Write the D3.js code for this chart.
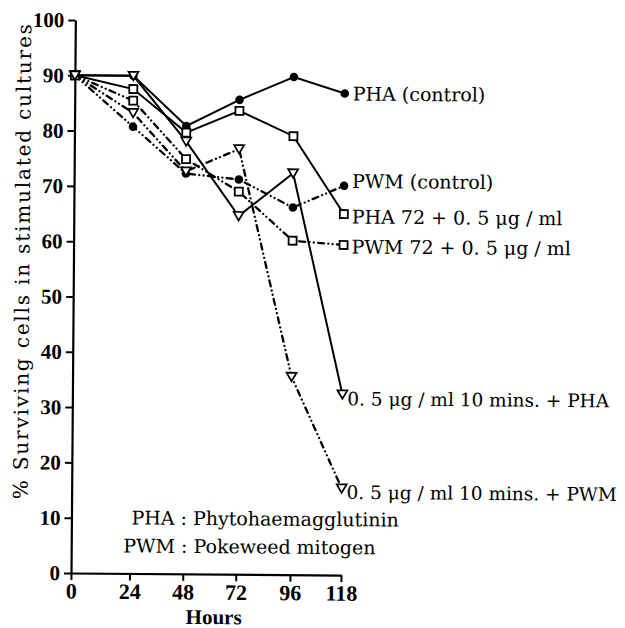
<!DOCTYPE html>
<html>
<head>
<meta charset="utf-8">
<script src="https://cdn.jsdelivr.net/npm/d3@7"></script>
<style>
  body { margin: 0; background: #fff; }
  svg { display: block; }
</style>
</head>
<body>
<svg id="chart" width="625" height="628"></svg>
<script>
// hours after stimulation
const hours = [0, 24, 48, 72, 96, 118];
const yTicks = [0, 10, 20, 30, 40, 50, 60, 70, 80, 90, 100];

// % surviving cells
const phaControl = [90, 90, 81.0, 85.8, 90.0, 87.1];
const pwmControl = [90, 80.8, 72.4, 71.4, 66.4, 70.4];
const pha72 = [90, 87.6, 79.8, 83.8, 79.3, 65.3];
const pwm72 = [90, 85.5, 75.0, 69.2, 60.4, 59.7];
const pha10min = [90, 90, 78.2, 64.8, 72.6, 32.7];
const pwm10min = [90, 83.3, 72.8, 76.9, 35.8, 15.7];

const seriesLabels = [
  "PHA (control)",
  "PWM (control)",
  "PHA 72 + 0. 5 \u03bcg / ml",
  "PWM 72 + 0. 5 \u03bcg / ml",
  "0. 5 \u03bcg / ml 10 mins. + PHA",
  "0. 5 \u03bcg / ml 10 mins. + PWM"
];

const allSeries = [phaControl, pwmControl, pha72, pwm72, pha10min, pwm10min];

// look of each series (same order)
const markers = ["circle", "circle", "square", "square", "triangle", "triangle"];
const dotted = [false, true, false, true, false, true];
const labelNudge = [0, -5, 2.5, 1.5, 4, 3.5];

const svg = d3.select("#chart");
svg.append("rect").attr("width", 625).attr("height", 628).attr("fill", "#fff");

// the scanned figure sits a little tilted
const g = svg.append("g").attr("transform", "rotate(0.45, 71, 573)");

// x axis in the paper is not evenly spaced, so map each tick
const x = d3.scaleLinear().domain(hours).range([71, 129.5, 182.8, 235.8, 290, 341]);
const y = d3.scaleLinear().domain([0, 100]).range([573, 20]);

const tickFont = "'Liberation Serif', serif";
const textFont = "'DejaVu Serif', serif";

// axes
const xAxis = g.append("g")
  .attr("transform", `translate(0, ${y(0)})`)
  .call(d3.axisBottom(x).tickValues(hours).tickFormat(d3.format("d")).tickSize(7).tickSizeOuter(0).tickPadding(3));
const yAxis = g.append("g")
  .attr("transform", `translate(${x(0)}, 0)`)
  .call(d3.axisLeft(y).tickValues(yTicks).tickSize(7).tickSizeOuter(0).tickPadding(4));

[xAxis, yAxis].forEach(ax => {
  ax.select(".domain").attr("stroke", "#000").attr("stroke-width", 2.2);
  ax.selectAll(".tick line").attr("stroke", "#000").attr("stroke-width", 2);
  ax.selectAll(".tick text")
    .attr("fill", "#000")
    .style("font-family", tickFont)
    .style("font-weight", "bold");
});
xAxis.selectAll(".tick text").style("font-size", "22px");
yAxis.selectAll(".tick text").style("font-size", "21px");

// lines
const line = d3.line()
  .x((d, i) => x(hours[i]))
  .y(d => y(d));

allSeries.forEach((vals, s) => {
  g.append("path")
    .datum(vals)
    .attr("d", line)
    .attr("fill", "none")
    .attr("stroke", "#000")
    .attr("stroke-width", dotted[s] ? 2.3 : 2)
    .attr("stroke-linecap", dotted[s] ? "round" : "butt")
    .attr("stroke-dasharray", dotted[s] ? "6,4.3,0.01,4.3,0.01,4.3" : null);
});

// markers on top
allSeries.forEach((vals, s) => {
  const pts = g.append("g").selectAll("g")
    .data(vals)
    .join("g")
    .attr("transform", (d, i) => `translate(${x(hours[i])}, ${y(d)})`);
  if (markers[s] === "circle") {
    pts.append("circle").attr("r", 4.3).attr("fill", "#000");
  } else if (markers[s] === "square") {
    pts.append("rect")
      .attr("x", -4).attr("y", -4).attr("width", 8).attr("height", 8)
      .attr("fill", "#fff").attr("stroke", "#000").attr("stroke-width", 1.8);
  } else {
    pts.append("path")
      .attr("d", "M-5,-4L5,-4L0,4.5Z")
      .attr("fill", "#fff").attr("stroke", "#000").attr("stroke-width", 1.7);
  }
});

// labels at the line ends
allSeries.forEach((vals, s) => {
  const last = vals[vals.length - 1];
  const tri = markers[s] === "triangle";
  g.append("text")
    .attr("x", x(118) + (tri ? 5 : 8))
    .attr("y", y(last) + labelNudge[s] + 7)
    .style("font-family", textFont)
    .style("font-size", tri ? "18.5px" : "19px")
    .attr("fill", "#000")
    .text(seriesLabels[s]);
});

// axis titles
g.append("text")
  .attr("transform", "translate(27, 262) rotate(-90)")
  .attr("text-anchor", "middle")
  .attr("textLength", 475)
  .attr("lengthAdjust", "spacing")
  .style("font-family", textFont)
  .style("font-size", "20px")
  .text("% Surviving cells in stimulated cultures");

g.append("text")
  .attr("x", 214)
  .attr("y", 623)
  .attr("text-anchor", "middle")
  .style("font-family", tickFont)
  .style("font-weight", "bold")
  .style("font-size", "21px")
  .text("Hours");

// key for the abbreviations
const key = [["PHA", " : Phytohaemagglutinin", 131, 524], ["PWM", " : Pokeweed mitogen", 123, 552]];
key.forEach(k => {
  const t = g.append("text")
    .attr("x", k[2]).attr("y", k[3])
    .style("font-family", textFont)
    .style("font-size", "19px");
  t.append("tspan").text(k[0]);
  t.append("tspan").text(k[1]);
});
</script>
</body>
</html>
